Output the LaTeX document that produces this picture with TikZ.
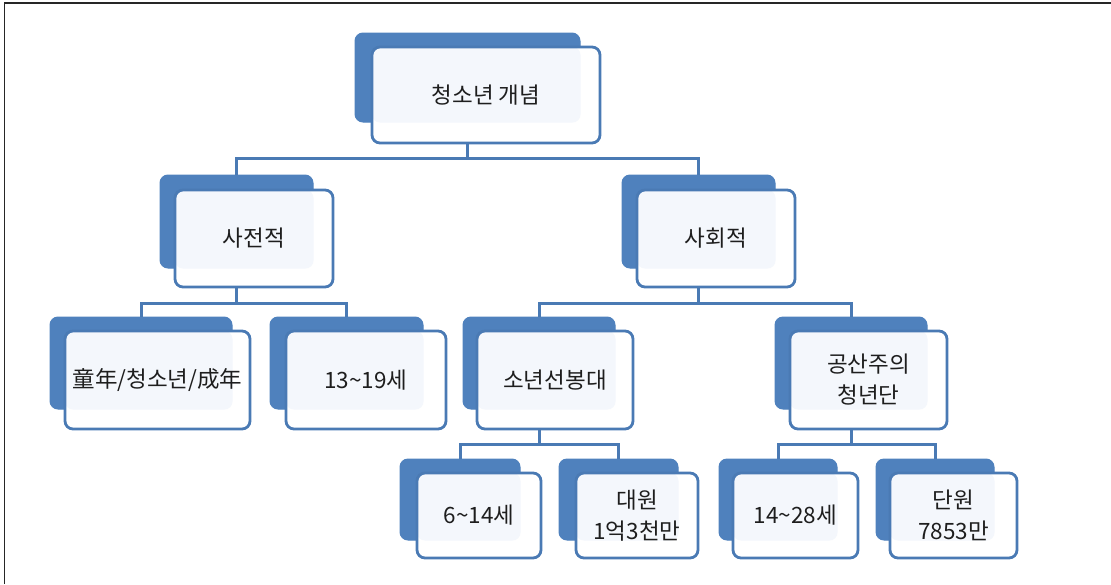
\documentclass[tikz,border=0pt]{standalone}
\usepackage{fontspec}
\newfontfamily\krfont{Noto Sans CJK KR}
\definecolor{accent}{RGB}{79,129,189}
\definecolor{edgeblue}{RGB}{74,122,180}
\definecolor{pale}{RGB}{244,247,252}
\definecolor{ink}{RGB}{30,30,30}
\begin{document}
\begin{tikzpicture}[x=1pt,y=-1pt,
  backbox/.style={draw=accent, fill=accent, rounded corners=8pt, line width=1pt, inner sep=0pt},
  frontbox/.style={draw=edgeblue, fill=white, rounded corners=8pt, line width=2.8pt, inner sep=2pt,
    align=center, text=ink, font=\krfont\fontsize{22.5}{31}\selectfont,
    path picture={\fill[pale] (path picture bounding box.north west) rectangle (#1-b.south east);}},
  conn/.style={draw=edgeblue, line width=3pt},
  frame/.style={draw=black!85, line width=1.6pt}
]
\useasboundingbox (0,0) rectangle (1111,584);
\draw[frame] (4.5,584) -- (4.5,3) -- (1111,3);

% level 0
\node[backbox, minimum width=225pt, minimum height=89pt] (root-b) at (467.5,77.5) {};
\node[frontbox=root, minimum width=228pt, minimum height=96pt] (root) at (486,95) {청소년 개념};

% level 1
\node[backbox, minimum width=153pt, minimum height=93pt] (sa-b) at (236.5,221.5) {};
\node[frontbox=sa, minimum width=158pt, minimum height=97pt] (sa) at (254,238.5) {사전적};
\node[backbox, minimum width=153pt, minimum height=93pt] (so-b) at (698.5,221.5) {};
\node[frontbox=so, minimum width=158pt, minimum height=97pt] (so) at (716,238.5) {사회적};

% level 2
\node[backbox, minimum width=182pt, minimum height=92pt] (ta-b) at (141,363) {};
\node[frontbox=ta, minimum width=185pt, minimum height=98pt] (ta) at (157.5,380) {童年/청소년/成年};
\node[backbox, minimum width=153pt, minimum height=92pt] (tb-b) at (346.5,363) {};
\node[frontbox=tb, minimum width=160pt, minimum height=98pt] (tb) at (366,380) {13\textasciitilde19세};
\node[backbox, minimum width=152pt, minimum height=92pt] (tc-b) at (539,363) {};
\node[frontbox=tc, minimum width=156pt, minimum height=98pt] (tc) at (555,380) {소년선봉대};
\node[backbox, minimum width=152pt, minimum height=92pt] (td-b) at (851,363) {};
\node[frontbox=td, minimum width=157pt, minimum height=98pt] (td) at (868.5,380) {공산주의\\청년단};

% level 3
\node[backbox, minimum width=120pt, minimum height=81pt] (ua-b) at (460,499.5) {};
\node[frontbox=ua, minimum width=124pt, minimum height=85pt] (ua) at (479,515.5) {6\textasciitilde14세};
\node[backbox, minimum width=119pt, minimum height=81pt] (ub-b) at (618.5,499.5) {};
\node[frontbox=ub, minimum width=122pt, minimum height=85pt] (ub) at (637,515.5) {대원\\1억3천만};
\node[backbox, minimum width=118pt, minimum height=81pt] (uc-b) at (778,499.5) {};
\node[frontbox=uc, minimum width=125pt, minimum height=85pt] (uc) at (795.5,515.5) {14\textasciitilde28세};
\node[backbox, minimum width=118pt, minimum height=81pt] (ud-b) at (935,499.5) {};
\node[frontbox=ud, minimum width=127pt, minimum height=85pt] (ud) at (953.5,515.5) {단원\\7853만};

% connector levels
\coordinate (y0) at (0,158);
\coordinate (y1) at (0,303);
\coordinate (y2) at (0,444);

\draw[conn] (root-b |- root.south) -- (root-b |- y0) -| (sa-b.north);
\draw[conn] (root-b |- y0) -| (so-b.north);

\draw[conn] (sa-b |- sa.south) -- (sa-b |- y1) -| (ta-b.north);
\draw[conn] (sa-b |- y1) -| (tb-b.north);

\draw[conn] (so-b |- so.south) -- (so-b |- y1) -| (tc-b.north);
\draw[conn] (so-b |- y1) -| (td-b.north);

\draw[conn] (tc-b |- tc.south) -- (tc-b |- y2) -| (ua-b.north);
\draw[conn] (tc-b |- y2) -| (ub-b.north);

\draw[conn] (td-b |- td.south) -- (td-b |- y2) -| (uc-b.north);
\draw[conn] (td-b |- y2) -| (ud-b.north);
\end{tikzpicture}
\end{document}
